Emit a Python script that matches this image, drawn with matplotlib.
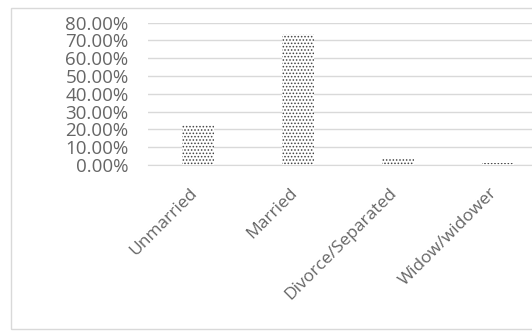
import matplotlib
matplotlib.use("Agg")
import matplotlib.pyplot as plt
from matplotlib.patches import Rectangle
from matplotlib.ticker import FuncFormatter
from matplotlib.transforms import ScaledTranslation

categories = ["Unmarried", "Married", "Divorce/Separated", "Widow/widower"]
values = [22.5, 73.5, 3.3, 1.0]
yticks = [0, 10, 20, 30, 40, 50, 60, 70, 80]

plt.rcParams['hatch.linewidth'] = 0.7
fig = plt.figure(figsize=(5.32, 3.31), dpi=100)
W, H = 532, 331
# outer chart border
fig.patches.append(Rectangle((10.5 / W, 1 - 329 / H), 1.0, (329 - 8) / H,
                             transform=fig.transFigure, fill=False,
                             edgecolor="#d9d9d9", linewidth=1.0))

ax = fig.add_axes([148 / W, 1 - 165 / H, 400 / W, 142.3 / H])
x = range(len(categories))
ax.bar(x, values, width=0.32, facecolor="white", edgecolor="#444444",
       linewidth=0, hatch=".....", zorder=3)
ax.set_xlim(-0.5, 3.5)
ax.set_ylim(0, 80)
ax.set_yticks(yticks)
ax.yaxis.set_major_formatter(FuncFormatter(lambda v, p: f"{v:.2f}%"))
ax.grid(axis="y", color="#d9d9d9", linewidth=1.0, zorder=0)
for s in ["top", "right", "left"]:
    ax.spines[s].set_visible(False)
ax.spines["bottom"].set_color("#d9d9d9")
ax.tick_params(axis="both", length=0, colors="#666666")
ax.tick_params(axis="y", pad=14, labelsize=13.5)
ax.tick_params(axis="x", pad=12)
ax.set_xticks(list(x))
ax.set_xticklabels(categories, rotation=45, ha="right", rotation_mode="anchor",
                   fontsize=12.5, color="#666666")
off = ScaledTranslation(-9 / 100, -3 / 100, fig.dpi_scale_trans)
for t in ax.get_xticklabels():
    t.set_transform(t.get_transform() + off)
for t in ax.get_yticklabels() + ax.get_xticklabels():
    t.set_family("Open Sans")
fig.savefig("out.png", dpi=100)
